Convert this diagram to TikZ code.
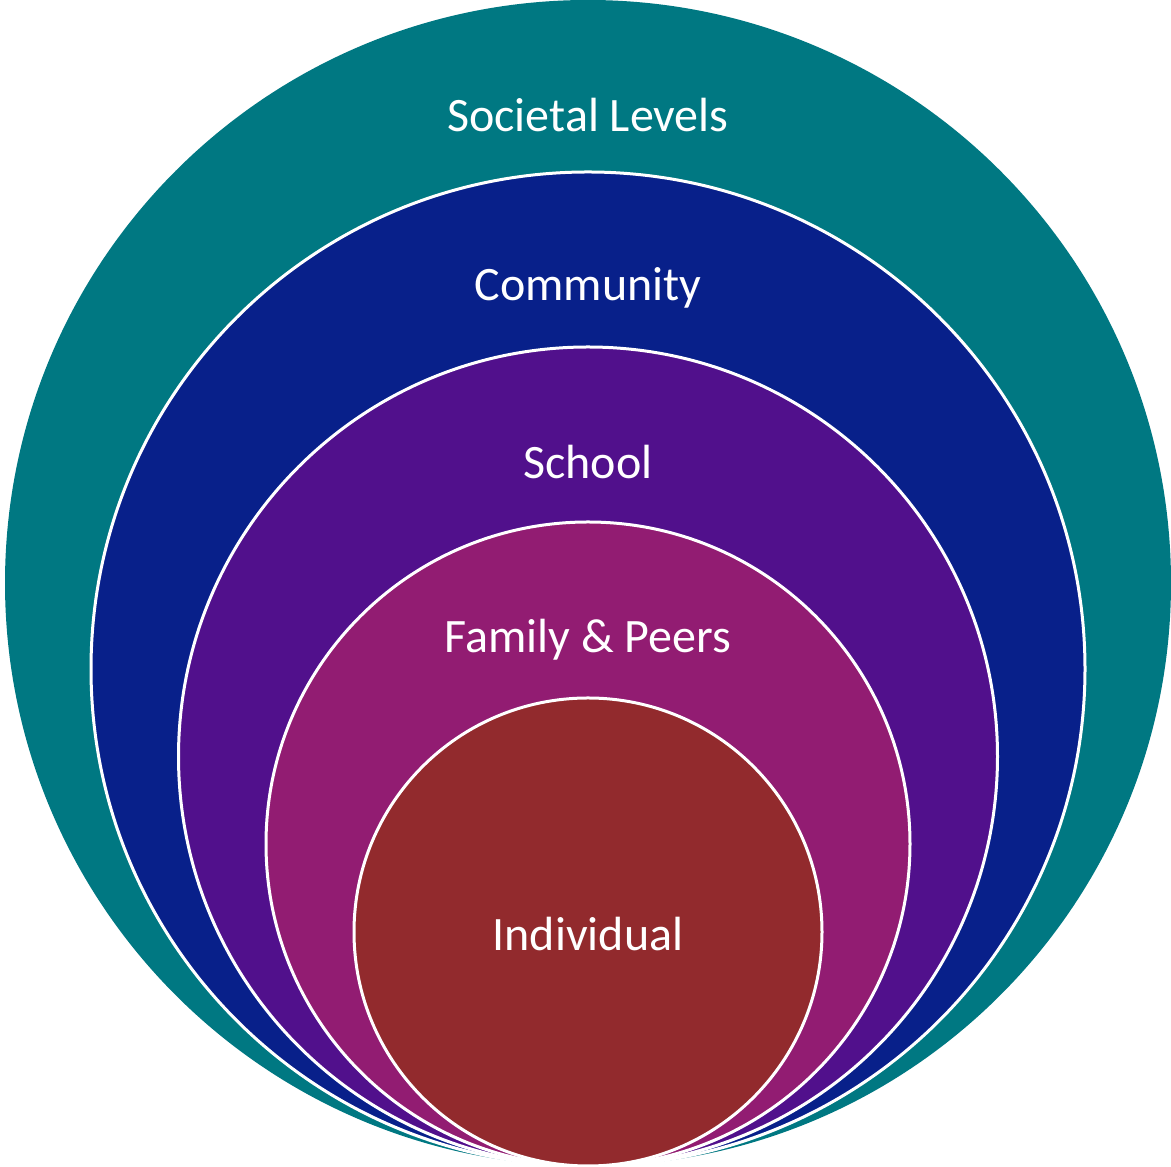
\documentclass[tikz,border=0pt]{standalone}
\usepackage{fontspec}
\setmainfont{Carlito}
\definecolor{societal}{HTML}{007882}
\definecolor{community}{HTML}{08208A}
\definecolor{school}{HTML}{51108C}
\definecolor{family}{HTML}{921C72}
\definecolor{individual}{HTML}{922A2D}

\begin{document}
\begin{tikzpicture}[x=1pt, y=1pt,
    ring/.style={draw=white, line width=3pt},
    lbl/.style={text=white, font=\fontsize{48}{58}\selectfont}]
    \useasboundingbox (0,0) rectangle (1171,1167);
    % nested circles, all touching at the bottom
    \fill[societal] (588,584) circle (583);
    \filldraw[ring, fill=community] (588,498) circle (497);
    \filldraw[ring, fill=school] (588,410.5) circle (409.5);
    \filldraw[ring, fill=family] (588,323) circle (322);
    \filldraw[ring, fill=individual] (588,235) circle (234);
    \node[lbl] (societal) at (588,1052) {Societal Levels};
    \node[lbl] (community) at (588,879) {Community};
    \node[lbl] (school) at (588,705) {School};
    \node[lbl] (family) at (588,527) {Family \& Peers};
    \node[lbl] (individual) at (588,233) {Individual};
\end{tikzpicture}
\end{document}
